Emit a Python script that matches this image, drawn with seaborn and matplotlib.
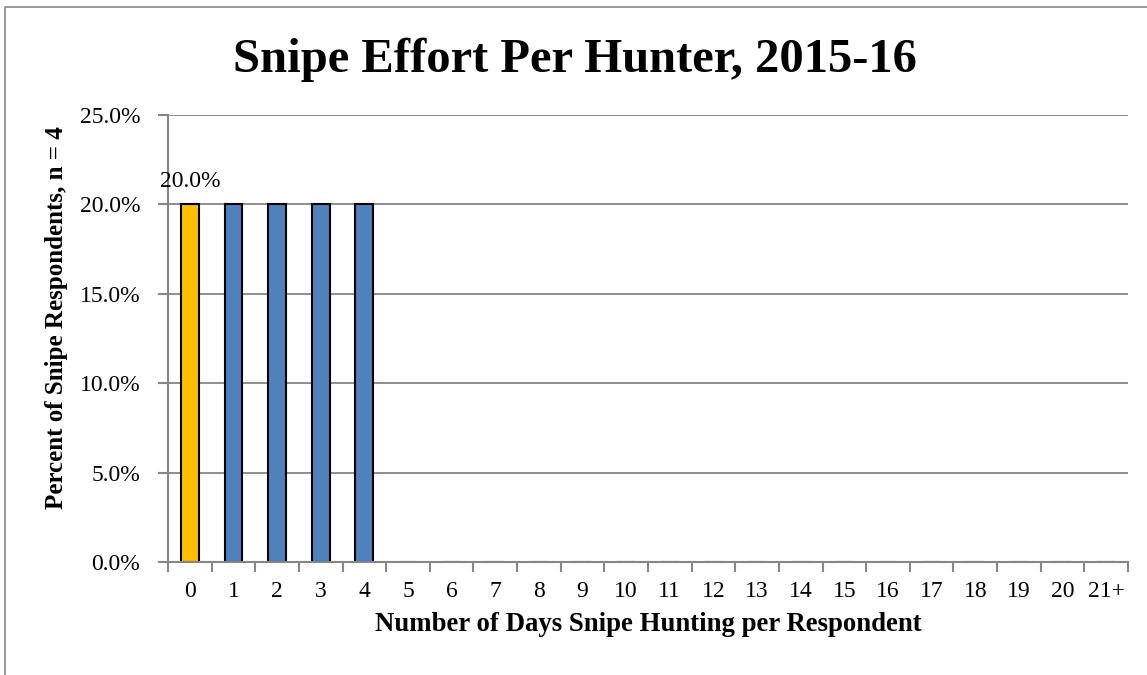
import matplotlib
matplotlib.use("Agg")
import matplotlib.pyplot as plt
import seaborn as sns
from matplotlib.lines import Line2D

categories = [str(i) for i in range(21)] + ["21+"]
values = [20.0, 20.0, 20.0, 20.0, 20.0] + [0.0] * 17
bar_colors = ["#FFC000"] + ["#4F81BD"] * 21
yticks = [0, 5, 10, 15, 20, 25]

sns.set_theme(style="white")
plt.rcParams["font.family"] = ["Liberation Serif", "DejaVu Serif"]
plt.rcParams["text.color"] = "black"
plt.rcParams["axes.labelcolor"] = "black"
plt.rcParams["xtick.color"] = "black"
plt.rcParams["ytick.color"] = "black"

fig = plt.figure(figsize=(11.47, 6.75), dpi=100)
ax = fig.add_axes([168/1147, 1-562/675, (1128-168)/1147, (562-115)/675])

sns.barplot(x=categories, y=values, hue=categories, palette=bar_colors,
            legend=False, width=0.41, edgecolor="black", linewidth=1.5,
            ax=ax, saturation=1)

ax.set_ylim(0, 25)
ax.set_xlim(-0.5, len(categories) - 0.5)
ax.set_yticks(yticks)
ax.set_yticklabels([f"{v:.1f}%" for v in yticks], fontsize=17)
ax.set_xticks(range(len(categories)))
ax.set_xticklabels(categories, fontsize=17)
ax.set_xticks([i - 0.5 for i in range(len(categories) + 1)], minor=True)
ax.tick_params(axis="x", which="major", bottom=True, length=0, pad=14)
ax.tick_params(axis="x", which="minor", bottom=True, length=7, width=1.5,
               color="#868686", direction="out")
ax.tick_params(axis="y", which="major", left=True, length=7, width=1.5,
               color="#868686", direction="out", pad=13, labelcolor="black")
ax.yaxis.grid(True, color="#868686", linewidth=1.3)
ax.set_axisbelow(True)
for s in ["top", "right"]:
    ax.spines[s].set_visible(False)
for s in ["left", "bottom"]:
    ax.spines[s].set_color("#868686")
    ax.spines[s].set_linewidth(1.5)

ax.text(0, values[0] + 0.95, f"{values[0]:.1f}%", ha="center", va="baseline",
        fontsize=17, color="black")

ax.set_xlabel("Number of Days Snipe Hunting per Respondent", fontsize=19.3,
              fontweight="bold", labelpad=7)
ax.set_ylabel("Percent of Snipe Respondents, n = 4", fontsize=18,
              fontweight="bold")
ax.yaxis.set_label_coords((68 - 168) / 960, 0.547)

fig.text(575/1147, 1-72/675, "Snipe Effort Per Hunter, 2015-16", ha="center",
         va="baseline", fontsize=35, fontweight="bold", color="black")

# outer chart border
fig.add_artist(Line2D([5/1147, 5/1147, 1.01], [0, 1-7/675, 1-7/675],
                      transform=fig.transFigure, color="#888888", linewidth=1.2,
                      clip_on=False))

fig.savefig("out.png", dpi=100)
